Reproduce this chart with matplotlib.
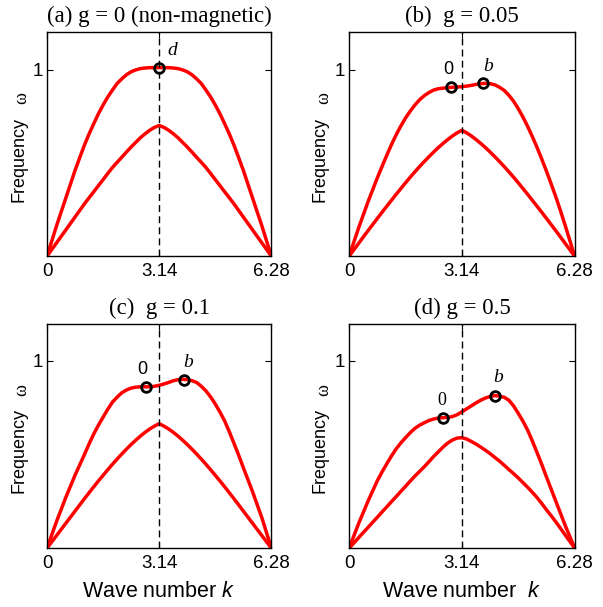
import numpy as np
import matplotlib
matplotlib.use("Agg")
import matplotlib.pyplot as plt

plt.rcParams['font.family'] = ['Liberation Sans', 'DejaVu Sans']
plt.rcParams['mathtext.fontset'] = 'custom'
plt.rcParams['mathtext.rm'] = 'Liberation Sans'
plt.rcParams['mathtext.it'] = 'Liberation Sans:italic'

# wave number grid, 0 .. 2pi in steps of pi/24
k = np.linspace(0, 2*np.pi, 49)

# (a) g = 0, both bands symmetric about pi
up_a_half = [0, 0.08, 0.16, 0.235, 0.31, 0.385, 0.46, 0.528, 0.595, 0.655, 0.71, 0.763,
             0.81, 0.853, 0.89, 0.925, 0.95, 0.972, 0.988, 0.998, 1.005, 1.008, 1.01,
             1.01, 1.01]
lo_a_half = [0, 0.035, 0.07, 0.105, 0.14, 0.175, 0.21, 0.245, 0.28, 0.313, 0.345, 0.378,
             0.41, 0.443, 0.475, 0.503, 0.53, 0.558, 0.585, 0.61, 0.635, 0.656, 0.675,
             0.69, 0.70]
up_a = up_a_half + up_a_half[-2::-1]
lo_a = lo_a_half + lo_a_half[-2::-1]

# (b) g = 0.05
up_b = [0, 0.075, 0.15, 0.22, 0.29, 0.355, 0.42, 0.48, 0.54, 0.597, 0.65, 0.697,
        0.74, 0.777, 0.81, 0.838, 0.86, 0.877, 0.89, 0.897, 0.90, 0.903, 0.905, 0.906,
        0.908, 0.911, 0.915, 0.92, 0.924, 0.926, 0.924, 0.918, 0.905, 0.888, 0.862, 0.83,
        0.79, 0.745, 0.695, 0.64, 0.582, 0.52, 0.455, 0.387, 0.317, 0.242, 0.163, 0.082, 0]
lo_b_half = [0, 0.034, 0.068, 0.102, 0.136, 0.169, 0.202, 0.235, 0.267, 0.299, 0.331,
             0.362, 0.393, 0.423, 0.452, 0.48, 0.507, 0.533, 0.558, 0.582, 0.604, 0.625,
             0.644, 0.661, 0.674]
lo_b = lo_b_half + lo_b_half[-2::-1]

# (c) g = 0.1
up_c = [0, 0.07, 0.14, 0.205, 0.27, 0.33, 0.39, 0.445, 0.50, 0.557, 0.61, 0.657,
        0.70, 0.742, 0.78, 0.807, 0.83, 0.845, 0.855, 0.86, 0.862, 0.862, 0.862, 0.865,
        0.87, 0.877, 0.885, 0.894, 0.90, 0.902, 0.90, 0.895, 0.885, 0.865, 0.84, 0.808,
        0.77, 0.727, 0.68, 0.622, 0.56, 0.497, 0.43, 0.365, 0.30, 0.23, 0.16, 0.08, 0]
lo_c_half = [0, 0.033, 0.066, 0.099, 0.132, 0.165, 0.198, 0.231, 0.264, 0.296, 0.328,
             0.359, 0.389, 0.419, 0.448, 0.476, 0.503, 0.529, 0.554, 0.577, 0.599, 0.619,
             0.637, 0.652, 0.665]
lo_c = lo_c_half + lo_c_half[-2::-1]

# (d) g = 0.5
up_d = [0, 0.065, 0.13, 0.19, 0.25, 0.305, 0.36, 0.407, 0.45, 0.492, 0.53, 0.562,
        0.59, 0.617, 0.64, 0.657, 0.67, 0.682, 0.69, 0.695, 0.697, 0.699, 0.703, 0.713,
        0.728, 0.744, 0.76, 0.776, 0.79, 0.802, 0.81, 0.815, 0.812, 0.806, 0.79, 0.76,
        0.72, 0.678, 0.63, 0.572, 0.51, 0.447, 0.38, 0.315, 0.25, 0.185, 0.12, 0.06, 0]
lo_d = [0, 0.027, 0.055, 0.083, 0.11, 0.138, 0.165, 0.193, 0.22, 0.248, 0.275, 0.303,
        0.33, 0.358, 0.385, 0.41, 0.435, 0.462, 0.49, 0.515, 0.54, 0.562, 0.578, 0.588,
        0.59, 0.583, 0.57, 0.556, 0.54, 0.523, 0.505, 0.485, 0.465, 0.443, 0.42, 0.398,
        0.375, 0.35, 0.325, 0.298, 0.27, 0.238, 0.205, 0.173, 0.14, 0.105, 0.07, 0.035, 0]

titles = ['(a) g = 0 (non-magnetic)', '(b)  g = 0.05', '(c)  g = 0.1', '(d) g = 0.5']
uppers = [up_a, up_b, up_c, up_d]
lowers = [lo_a, lo_b, lo_c, lo_d]

# marked points on the upper band: (k, w, label)
marks = [
    [(np.pi, 1.01, 'd')],
    [(2.85, 0.904, '0'), (3.73, 0.926, 'b')],
    [(2.77, 0.862, '0'), (3.84, 0.90, 'b')],
    [(2.61, 0.697, '0'), (4.06, 0.815, 'b')],
]
# where the point labels go
label_pos = [
    [(3.50, 1.10)],
    [(2.77, 1.00), (3.86, 1.016)],
    [(2.68, 0.955), (3.96, 0.99)],
    [(2.57, 0.79), (4.16, 0.91)],
]

fig = plt.figure(figsize=(6.03, 6.07), dpi=100)
rects = [[0.078, 0.578, 0.372, 0.369],
         [0.579, 0.578, 0.374, 0.369],
         [0.078, 0.097, 0.372, 0.370],
         [0.579, 0.097, 0.374, 0.370]]

for i in range(4):
    ax = fig.add_axes(rects[i])
    ax.plot(k, uppers[i], color='red', lw=2.5, solid_capstyle='round',
            solid_joinstyle='round')
    ax.plot(k, lowers[i], color='red', lw=2.5, solid_capstyle='round',
            solid_joinstyle='round')
    ax.axvline(np.pi, color='black', lw=1, dashes=(5, 3))
    for j, (mk, mw, lab) in enumerate(marks[i]):
        ax.plot(mk, mw, 'o', ms=7, mfc='none', mec='black', mew=2)
        tx, ty = label_pos[i][j]
        if lab == '0' and i < 3:
            ax.text(tx, ty, lab, fontsize=13, ha='center', va='center')
        elif lab == '0':
            ax.text(tx, ty, lab, fontsize=13, ha='center', va='center',
                    family='Liberation Serif')
        else:
            ax.text(tx, ty, lab, fontsize=14, ha='center', va='center',
                    family='Liberation Serif', style='italic')
    ax.set_xlim(0, 2*np.pi)
    ax.set_ylim(0, 1.2)
    ax.set_xticks([0, 3.14, 6.28])
    ax.set_xticklabels(['0', '3.14', '6.28'])
    ax.set_yticks([1])
    ax.set_yticklabels(['1'])
    ax.tick_params(direction='in', top=True, right=True, length=4, width=0.8,
                   labelsize=13.5)
    ax.tick_params(axis='x', pad=5)
    ax.tick_params(axis='y', pad=3)
    for sp in ax.spines.values():
        sp.set_linewidth(1)
    ax.set_title(titles[i], family='Liberation Serif', fontsize=16.5, pad=7)
    ax.text(-0.127, 0.433, 'Frequency', transform=ax.transAxes, rotation=90,
            ha='center', va='center', fontsize=13)
    ax.text(-0.113, 0.705, '\u03c9', transform=ax.transAxes, rotation=90,
            ha='center', va='center', fontsize=13, family='Liberation Serif')
    if i == 2:
        ax.text(0.5, -0.218, 'Wave number $k$', transform=ax.transAxes,
                ha='center', va='baseline', fontsize=15.5)
    if i == 3:
        ax.text(0.5, -0.218, 'Wave number  $k$', transform=ax.transAxes,
                ha='center', va='baseline', fontsize=15.5)

plt.savefig('out.png', dpi=100)
